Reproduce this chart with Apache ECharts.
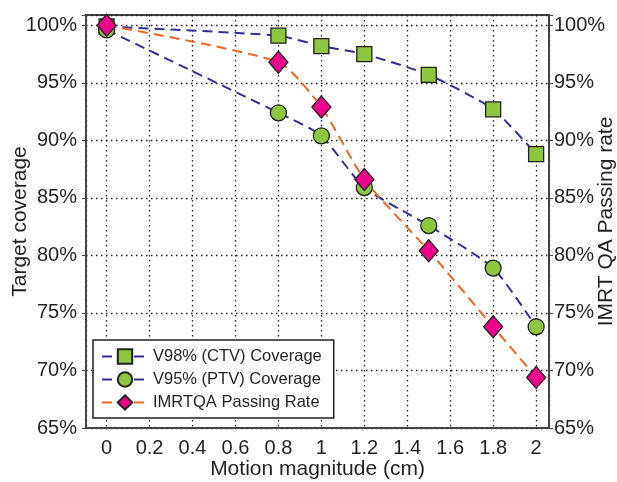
<!DOCTYPE html>
<html>
<head>
<meta charset="utf-8">
<script src="https://cdn.jsdelivr.net/npm/echarts@6/dist/echarts.min.js"></script>
<style>
  html, body { margin: 0; padding: 0; background: #fff; }
  #chart { width: 617px; height: 482px; }
</style>
</head>
<body>
<div id="chart"></div>
<script>
const motion = [0, 0.8, 1, 1.2, 1.5, 1.8, 2];
const v98Ctv = [99.9, 99.1, 98.2, 97.5, 95.7, 92.7, 88.8];
const v95Ptv = [99.6, 92.4, 90.4, 85.9, 82.6, 78.9, 73.8];
const imrtQa = [100, 96.8, 92.9, 86.6, 80.4, 73.8, 69.4];

const pairs = (ys) => motion.map((x, i) => [x, ys[i]]);

const chart = echarts.init(document.getElementById('chart'));
const ink = '#231f20';
const blue = '#2e3192';
const orange = '#f26522';
const font = 'Liberation Sans, Arial, sans-serif';

const gridLine = { show: true, lineStyle: { color: ink, type: [1.5, 3.5], width: 1.3 } };

const yLabel = (v) => (Math.abs(v % 5) < 1e-6 ? v + '%' : '');
const yCommon = {
  type: 'value',
  min: 65,
  max: 100.9,
  interval: 5,
  nameLocation: 'middle',
  nameRotate: 90,
  nameMoveOverlap: false,
  nameTextStyle: { fontSize: 21, color: ink, fontFamily: font },
  axisLine: { show: true, onZero: false, lineStyle: { color: '#444', width: 2 } },
  axisTick: { show: true, length: 4, lineStyle: { color: '#444' } },
  axisLabel: { fontSize: 20, color: ink, fontFamily: font, formatter: yLabel }
};

const option = {
  animation: false,
  backgroundColor: '#fff',
  grid: {
    left: 86, right: 68, top: 15, bottom: 54,
    containLabel: false,
    outerBoundsMode: 'none',
    show: true, borderColor: '#444', borderWidth: 2
  },
  legend: {
    orient: 'vertical',
    left: 93,
    top: 340,
    padding: [8, 12, 7, 8],
    itemGap: 6,
    itemWidth: 46,
    itemHeight: 18,
    backgroundColor: '#fff',
    borderColor: ink,
    borderWidth: 1.5,
    borderRadius: 0,
    textStyle: { fontSize: 16.5, color: ink, fontFamily: font },
    data: ['V98% (CTV) Coverage', 'V95% (PTV) Coverage', 'IMRTQA Passing Rate']
  },
  xAxis: {
    type: 'value',
    min: -0.096,
    max: 2.06,
    minInterval: 0.2,
    maxInterval: 0.2,
    name: 'Motion magnitude (cm)',
    nameLocation: 'middle',
    nameGap: 31,
    nameMoveOverlap: false,
    nameTextStyle: { fontSize: 21, color: ink, fontFamily: font },
    axisLine: { show: true, onZero: false, lineStyle: { color: '#444', width: 2 } },
    axisTick: { show: false },
    axisLabel: {
      fontSize: 20, color: ink, fontFamily: font, margin: 10,
      formatter: (v) => (Math.abs(v * 5 - Math.round(v * 5)) < 1e-6 ? String(Math.round(v * 10) / 10) : '')
    },
    splitLine: gridLine
  },
  yAxis: [
    Object.assign({}, yCommon, {
      position: 'left',
      name: 'Target coverage',
      nameGap: 55,
      splitLine: gridLine,
      axisLabel: Object.assign({}, yCommon.axisLabel, { margin: 9 })
    }),
    Object.assign({}, yCommon, {
      position: 'right',
      name: 'IMRT QA Passing rate',
      nameGap: 47,
      splitLine: { show: false },
      axisLabel: Object.assign({}, yCommon.axisLabel, { margin: 5 })
    })
  ],
  series: [
    {
      name: 'V98% (CTV) Coverage',
      type: 'line',
      data: pairs(v98Ctv),
      smooth: 0.2,
      symbol: 'rect',
      symbolSize: 15,
      lineStyle: { color: blue, width: 2, type: [10, 6] },
      itemStyle: { color: '#8dc63f', borderColor: ink, borderWidth: 1.3 },
      z: 3
    },
    {
      name: 'V95% (PTV) Coverage',
      type: 'line',
      data: pairs(v95Ptv),
      smooth: 0.2,
      symbol: 'circle',
      symbolSize: 16,
      lineStyle: { color: blue, width: 2, type: [10, 6] },
      itemStyle: { color: '#8dc63f', borderColor: ink, borderWidth: 1.3 },
      z: 4
    },
    {
      name: 'IMRTQA Passing Rate',
      type: 'line',
      data: pairs(imrtQa),
      smooth: 0.2,
      symbol: 'diamond',
      symbolSize: [19, 22],
      lineStyle: { color: orange, width: 2, type: [10, 6] },
      itemStyle: { color: '#ec008c', borderColor: ink, borderWidth: 1.3 },
      z: 5
    }
  ]
};

chart.setOption(option);
window.addEventListener('resize', () => chart.resize());
</script>
</body>
</html>
